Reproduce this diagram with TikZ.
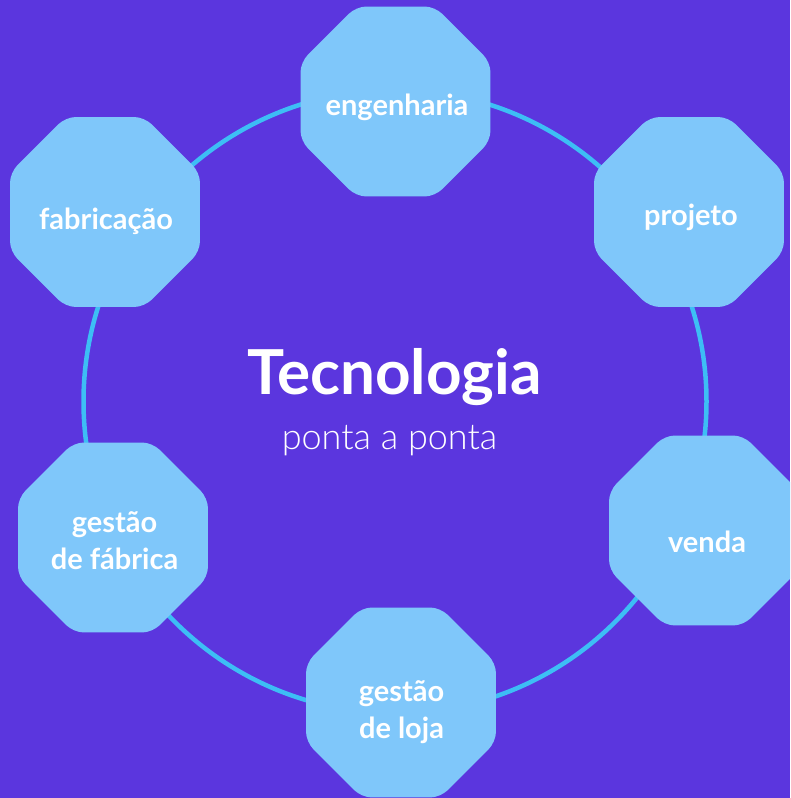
\documentclass[tikz,border=0pt]{standalone}
\usepackage{fontspec}
\setmainfont{Lato}
\newfontfamily\lightfont{Lato Light}
\usetikzlibrary{shapes.geometric}
\definecolor{roxo}{HTML}{5B36DE}
\definecolor{anel}{HTML}{3DBEF5}
\definecolor{celeste}{HTML}{7FC7FA}
\begin{document}
\begin{tikzpicture}[x=1pt,y=-1pt,
    octo/.style={regular polygon, regular polygon sides=8, minimum size=205.6pt,
      inner sep=0pt, outer sep=0pt, fill=celeste, rounded corners=10pt},
    rotulo/.style={text=white, font=\bfseries\fontsize{29}{37}\selectfont,
      align=center, anchor=base, inner sep=0pt}]
  \useasboundingbox (0,0) rectangle (790,798);
  \clip (0,0) rectangle (790,798);
  \fill[roxo] (0,0) rectangle (790,798);
  % anel
  \coordinate (centro) at (395,401.5);
  \draw[anel, line width=4.5pt] (centro) circle (311.5pt);
  % octogonos
  \node[octo] (engenharia) at (395.5,101.5) {};
  \node[octo] (projeto) at (689,212) {};
  \node[octo] (venda) at (704,530.5) {};
  \node[octo] (loja) at (401,702.5) {};
  \node[octo] (fabrica) at (113,537.5) {};
  \node[octo] (fabricacao) at (105,212) {};
  % textos
  \node[rotulo] (t-engenharia) at (397,115) {engenharia};
  \node[rotulo] (t-projeto) at (691,225) {projeto};
  \node[rotulo] (t-venda) at (707,552) {venda};
  \node[rotulo] (t-loja) at (401.5,738) {gestão\\de loja};
  \node[rotulo] (t-fabrica) at (114.5,569) {gestão\\de fábrica};
  \node[rotulo] (t-fabricacao) at (106,229) {fabricação};
  \node[text=white, font=\bfseries\fontsize{62}{64}\selectfont, anchor=base,
    inner sep=0pt] (titulo) at (394.5,394) {Tecnologia};
  \node[text=white, font=\lightfont\fontsize{36}{40}\selectfont, anchor=base,
    inner sep=0pt] (subtitulo) at (389.5,449) {ponta a ponta};
\end{tikzpicture}
\end{document}
